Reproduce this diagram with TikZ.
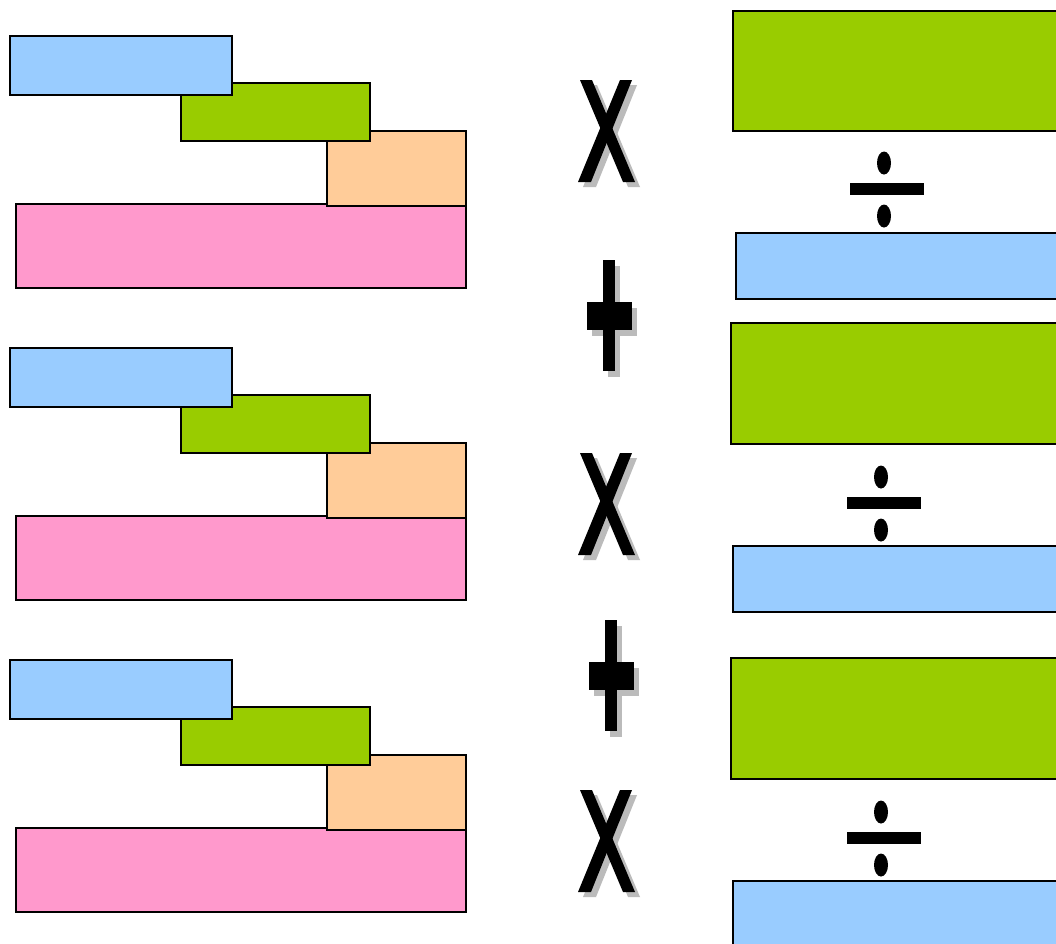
\documentclass[tikz,border=0pt]{standalone}
\definecolor{cblue}{HTML}{99CCFF}
\definecolor{cgreen}{HTML}{99CC00}
\definecolor{corange}{HTML}{FFCC99}
\definecolor{cpink}{HTML}{FF99CC}
\definecolor{cshadow}{HTML}{BBBBBB}
\tikzset{
  blk/.style={draw=black, line width=1.1pt},
  sym/.style={fill=black},
  shd/.style={fill=cshadow}
}
\newcommand\XSym[1]{%
  \begin{scope}[shift={(5,5)}]
    \fill[shd] (580,#1) -- (592,#1) -- (635,#1+102) -- (623,#1+102) -- cycle;
    \fill[shd] (620,#1) -- (632,#1) -- (591,#1+102) -- (578,#1+102) -- cycle;
  \end{scope}
  \fill[sym] (580,#1) -- (592,#1) -- (635,#1+102) -- (623,#1+102) -- cycle;
  \fill[sym] (620,#1) -- (632,#1) -- (591,#1+102) -- (578,#1+102) -- cycle;
}
\newcommand\PlusSym[2]{%
  \begin{scope}[shift={(#1,#2)}]
    \fill[shd] (21,6) rectangle (33,117);
    \fill[shd] (5,48) rectangle (50,76);
    \fill[sym] (16,0) rectangle (28,111);
    \fill[sym] (0,42) rectangle (45,70);
  \end{scope}
}
\newcommand\DivSym[2]{%
  \begin{scope}[shift={(#1,#2)}]
    \fill[sym] (-34,-6) rectangle (40,6);
    \fill[sym] (0,-26) ellipse (7 and 11.5);
    \fill[sym] (0,27) ellipse (7 and 11.5);
  \end{scope}
}
\newcommand\Group[1]{%
  \begin{scope}[shift={(0,#1)}]
    \draw[blk, fill=cpink] (16,204) rectangle (466,288);
    \draw[blk, fill=corange] (327,131) rectangle (466,206);
    \draw[blk, fill=cgreen] (181,83) rectangle (370,141);
    \draw[blk, fill=cblue] (10,36) rectangle (232,95);
  \end{scope}
}
\begin{document}
\begin{tikzpicture}[x=0.75pt,y=-0.75pt]
\useasboundingbox (0,0) rectangle (1056,943);
\clip (0,0) rectangle (1056,943);
\fill[white] (0,0) rectangle (1056,943);
\Group{0}
\Group{312}
\Group{624}
\XSym{80}
\XSym{453}
\XSym{790}
\PlusSym{587}{260}
\PlusSym{589}{620}
\draw[blk, fill=cgreen] (733,11) rectangle (1070,131);
\draw[blk, fill=cblue] (736,233) rectangle (1070,299);
\draw[blk, fill=cgreen] (731,323) rectangle (1070,444);
\draw[blk, fill=cblue] (733,546) rectangle (1070,612);
\draw[blk, fill=cgreen] (731,658) rectangle (1070,779);
\draw[blk, fill=cblue] (733,881) rectangle (1070,960);
\DivSym{884}{189}
\DivSym{881}{503}
\DivSym{881}{838}
\end{tikzpicture}
\end{document}
